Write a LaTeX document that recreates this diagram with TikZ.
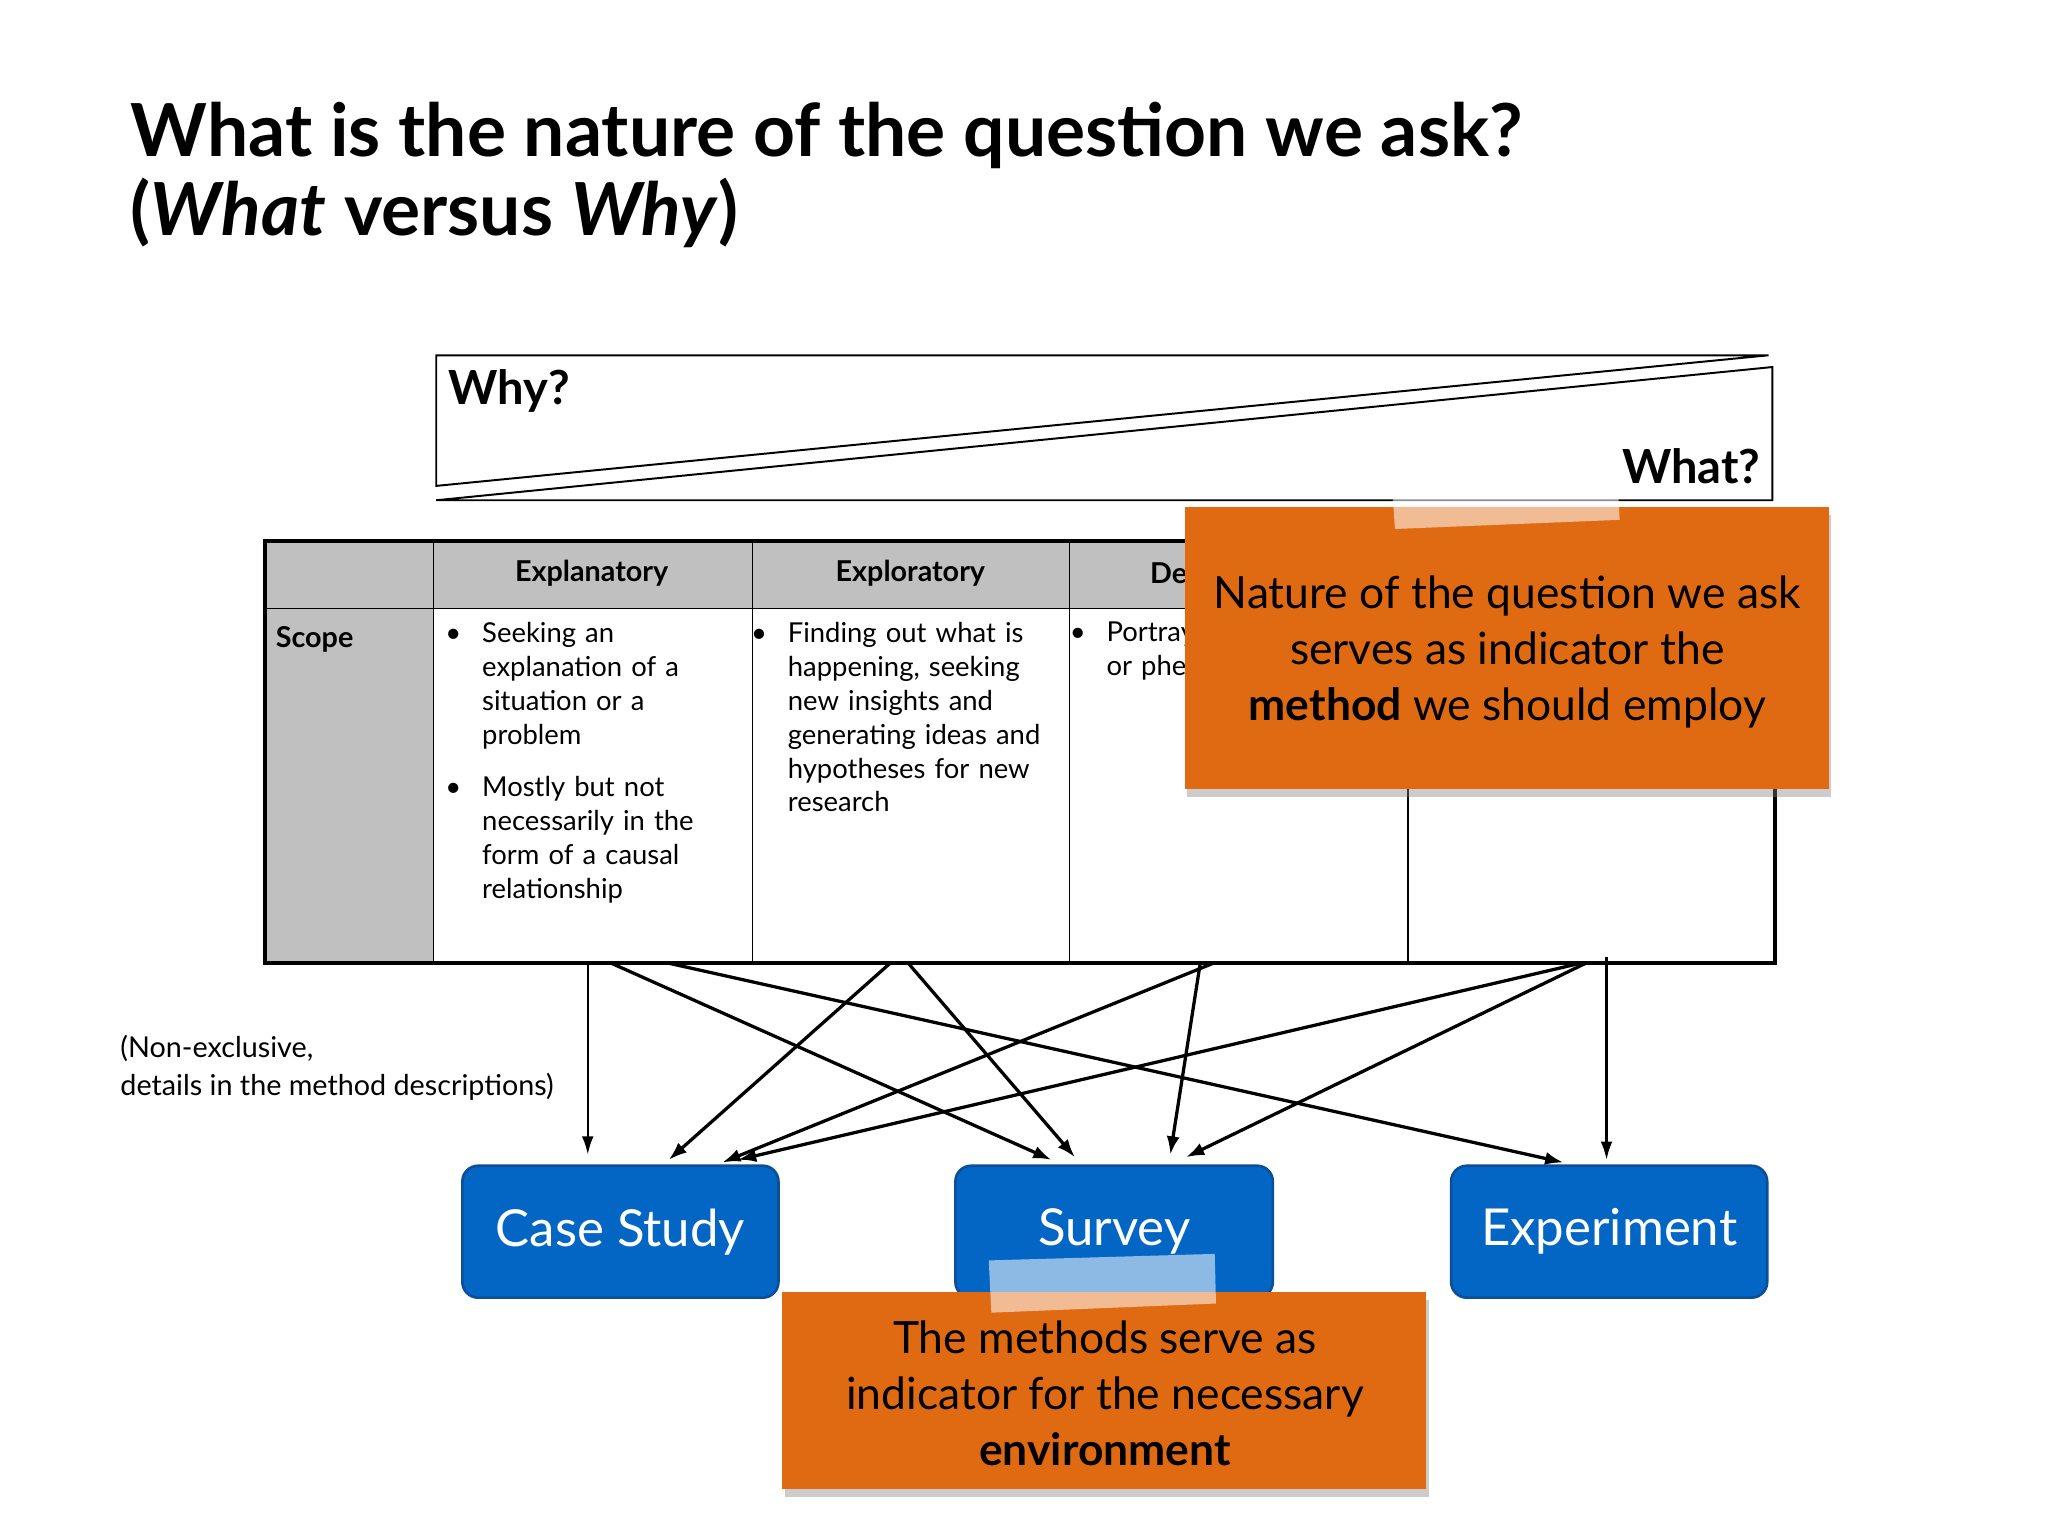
\documentclass[tikz,border=0pt]{standalone}
\usepackage{fontspec}
\setmainfont{Lato}
\usetikzlibrary{shadows,arrows.meta}
\definecolor{org}{HTML}{E06A12}
\definecolor{blu}{HTML}{0466C4}
\definecolor{blud}{HTML}{0B4F9A}
\definecolor{gr}{HTML}{C0C0C0}
\newcommand{\bl}[1]{\makebox[0pt][r]{\textbullet\hspace{16pt}}#1}
\begin{document}
\begin{tikzpicture}[x=1pt,y=-1pt,
  note/.style={fill=org,draw=none,drop shadow={shadow xshift=2pt,shadow yshift=-6pt,opacity=0.4}},
  tape/.style={fill=white,opacity=0.55},
  meth/.style={draw=blud,line width=2pt,fill=blu,rounded corners=12pt,text=white,font=\fontsize{39}{44}\selectfont},
  cell/.style={anchor=north west,align=left,text width=240pt,font=\fontsize{21}{26}\selectfont,inner sep=0pt},
  hdr/.style={font=\bfseries\fontsize{22}{26}\selectfont},
  arr/.style={-{Latex[length=14pt,width=10pt]},line width=2.5pt},
  arrt/.style={-{Latex[length=14pt,width=9pt]},line width=1.8pt}]
\useasboundingbox (0,0) rectangle (1568,1176);
\fill[white] (0,0) rectangle (1568,1176);
% title
\node[anchor=base west,inner sep=0pt,font=\bfseries\fontsize{56}{60}\selectfont] (t1) at (100,120) {What is the nature of the question we ask?};
\node[anchor=base west,inner sep=0pt,font=\bfseries\fontsize{56}{60}\selectfont] (t2) at (100,180) {(\textit{What} versus \textit{Why})};
% why/what
\draw[line width=1.5pt] (334,272) -- (1354,272) -- (334,372) -- cycle;
\draw[line width=1.5pt] (1357,281) -- (1357,383) -- (334,383) -- cycle;
\node[anchor=base west,inner sep=0pt,font=\bfseries\fontsize{36}{40}\selectfont] (why) at (343,310) {Why?};
\node[anchor=base east,inner sep=0pt,font=\bfseries\fontsize{36}{40}\selectfont] (what) at (1348,370) {What?};
% table
\fill[gr] (203,414) rectangle (1359,466);
\fill[gr] (203,466) rectangle (332,737);
\draw[line width=1pt] (203,466) -- (1359,466);
\foreach \x in {332,576,819,1078} \draw[line width=1pt] (\x,414) -- (\x,737);
\draw[line width=3pt] (203,414) rectangle (1359,737);
\node[hdr] (h1) at (453,439) {Explanatory};
\node[hdr] (h2) at (697,439) {Exploratory};
\node[hdr,anchor=west] (h3) at (877,439) {De};
\node[hdr,anchor=base west,inner sep=0pt] (sc) at (211,496) {Scope};
\node[cell] (c1) at (369,476) {\bl{Seeking an}\\explanation of a\\situation or a\\problem};
\node[cell] (c1b) at (369,594) {\bl{Mostly but not}\\necessarily in the\\form of a causal\\relationship};
\node[cell] (c2) at (603,476) {\bl{Finding out what is}\\happening, seeking\\new insights and\\generating ideas and\\hypotheses for new\\research};
\node[cell] (c3) at (847,476) {\bl{Portray}\\\hspace{-0pt}or phe};
% note 1
\fill[note] (907,388) rectangle (1400,604);
\node[align=center,font=\fontsize{34}{43}\selectfont] (n1) at (1154,499) {Nature of the question we ask\\serves as indicator the\\\textbf{method} we should employ};
\fill[tape] (1065,362) -- (1238,358) -- (1240,398) -- (1068,405) -- cycle;
% methods
\node[meth,minimum width=242pt,minimum height=101pt] (cs) at (475,943) {Case Study};
\node[meth,minimum width=243pt,minimum height=101pt] (sv) at (853,943) {Survey};
\node[meth,minimum width=242pt,minimum height=101pt] (ex) at (1232,943) {Experiment};
% note 2
\fill[note] (599,989) rectangle (1092,1140);
\node[align=center,font=\fontsize{34}{43}\selectfont] (n2) at (846,1067) {The methods serve as\\indicator for the necessary\\\textbf{environment}};
\fill[tape] (757,965) -- (930,960) -- (931,998) -- (759,1005) -- cycle;
% side text
\node[anchor=base west,align=left,inner sep=0pt,font=\fontsize{22}{29}\selectfont] (ne) at (92,839) {(Non-exclusive,\\details in the method descriptions)};
% arrow endpoints
\foreach \n/\x/\y in {a/450/737,b/467/737,c/510/737,d/682/737,e/695/737,f/930/737,g/919/737,h/1212/737,i/1215/737,j/1230/733}
  \coordinate (s\n) at (\x,\y);
\foreach \n/\x/\y in {a/450/884,b/805/888,c/1197/890,d/512/888,e/823/886,f/553/890,g/896/884,h/565/888,i/908/886,j/1230/888}
  \coordinate (e\n) at (\x,\y);
\draw[arrt] (sa) -- (ea);
\draw[arr] (sb) -- (eb);
\draw[arr] (sc) -- (ec);
\draw[arr] (sd) -- (ed);
\draw[arr] (se) -- (ee);
\draw[arr] (sf) -- (ef);
\draw[arr] (sg) -- (eg);
\draw[arr] (sh) -- (eh);
\draw[arr] (si) -- (ei);
\draw[arrt] (sj) -- (ej);
\end{tikzpicture}
\end{document}
